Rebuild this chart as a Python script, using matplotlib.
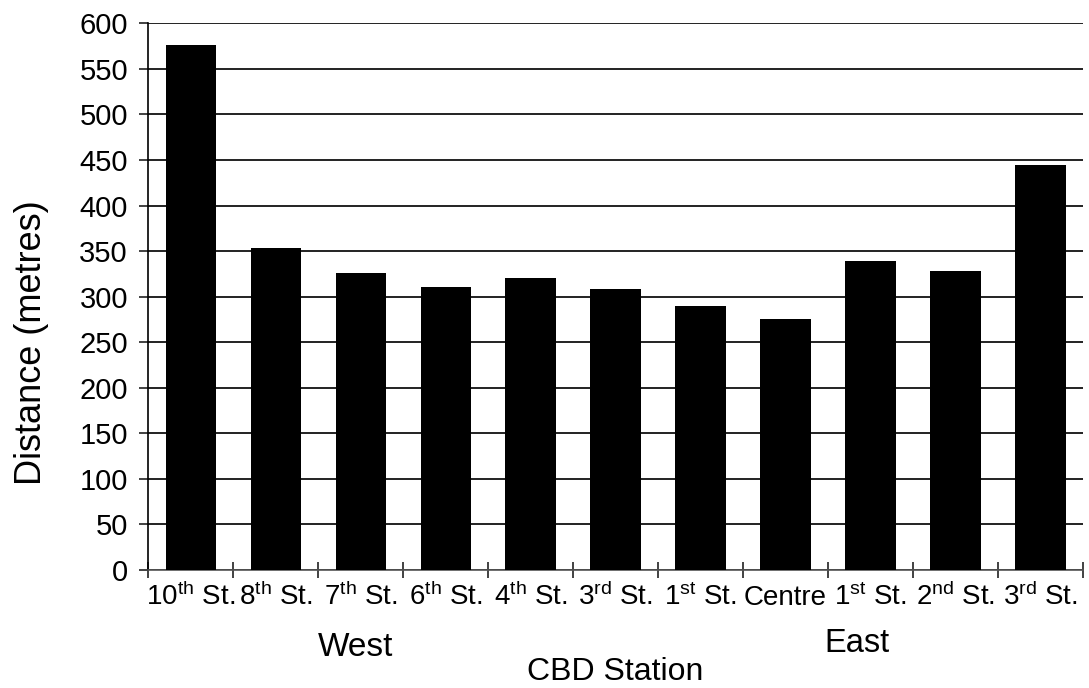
import matplotlib
matplotlib.use("Agg")
import matplotlib.pyplot as plt
import numpy as np

# data
stations = ["10$^{\\rm th}$ St.", "8$^{\\rm th}$ St.", "7$^{\\rm th}$ St.", "6$^{\\rm th}$ St.",
            "4$^{\\rm th}$ St.", "3$^{\\rm rd}$ St.", "1$^{\\rm st}$ St.", "Centre",
            "1$^{\\rm st}$ St.", "2$^{\\rm nd}$ St.", "3$^{\\rm rd}$ St."]
distance = [576, 353, 326, 311, 320, 309, 290, 275, 339, 328, 445]
y_ticks = list(range(0, 601, 50))

plt.rcParams['font.family'] = ['Liberation Sans', 'DejaVu Sans']
plt.rcParams['mathtext.fontset'] = 'custom'
plt.rcParams['mathtext.rm'] = 'Liberation Sans'
plt.rcParams['mathtext.it'] = 'Liberation Sans:italic'
plt.rcParams['mathtext.bf'] = 'Liberation Sans:bold'

fig = plt.figure(figsize=(10.89, 6.88), dpi=100)
ax = fig.add_axes([0.136, 0.1715, 0.8585, 0.7945])

x = np.arange(len(stations))
ax.bar(x, distance, width=0.59, color='black', zorder=3)

ax.set_xlim(-0.5, len(stations) - 0.5)
ax.set_ylim(0, 600)
ax.set_yticks(y_ticks)
ax.yaxis.grid(True, color='#222222', linewidth=1.4, zorder=0)
ax.tick_params(axis='y', labelsize=21, length=6.5, width=1.2, pad=8, color='#222222')

# labels at bar centres (baseline aligned), tick marks at the category boundaries
ax.set_xticks(x)
ax.set_xticklabels(stations, fontsize=20)
ax.tick_params(axis='x', which='major', length=0, pad=25)
for lab in ax.get_xticklabels():
    lab.set_verticalalignment('baseline')
ax.set_xticks(np.arange(-0.5, len(stations)), minor=True)
ax.tick_params(axis='x', which='minor', direction='inout', length=12, width=1.2, color='#222222')

for s in ['top', 'right']:
    ax.spines[s].set_visible(False)
ax.spines['left'].set_linewidth(1.2)
ax.spines['bottom'].set_linewidth(1.2)
ax.spines['bottom'].set_color('#555555')

trans = matplotlib.transforms.blended_transform_factory(ax.transData, fig.transFigure)
ax.text(1.94, 1 - 647 / 688, "West", transform=trans, ha='center', va='center', fontsize=24)
ax.text(7.84, 1 - 643 / 688, "East", transform=trans, ha='center', va='center', fontsize=23.5)
fig.text(615 / 1089, 1 - 672 / 688, "CBD Station", ha='center', va='center', fontsize=23)
fig.text(32 / 1089, 1 - 343 / 688, "Distance (metres)", ha='center', va='center',
         rotation=90, fontsize=26)

fig.savefig("out.png", dpi=100)
